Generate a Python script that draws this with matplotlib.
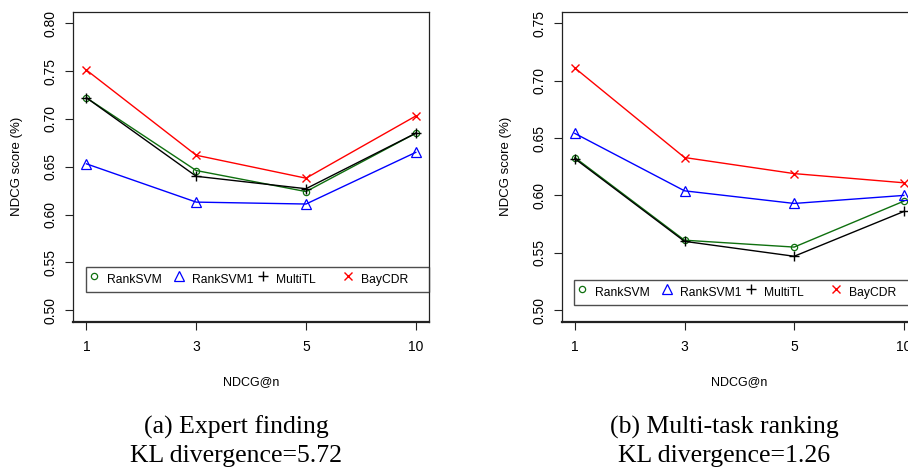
import matplotlib
matplotlib.use("Agg")
import matplotlib.pyplot as plt
from matplotlib.lines import Line2D

plt.rcParams['font.family'] = ['Liberation Sans', 'DejaVu Sans']

# x categories (NDCG@n)
ndcg_at = ['1', '3', '5', '10']
methods = ['RankSVM', 'RankSVM1', 'MultiTL', 'BayCDR']

# (a) Expert finding
ranksvm_a = [0.722, 0.646, 0.624, 0.685]
ranksvm1_a = [0.653, 0.613, 0.611, 0.665]
multitl_a = [0.722, 0.640, 0.627, 0.685]
baycdr_a = [0.751, 0.662, 0.638, 0.703]

# (b) Multi-task ranking
ranksvm_b = [0.633, 0.561, 0.555, 0.595]
ranksvm1_b = [0.654, 0.604, 0.593, 0.600]
multitl_b = [0.632, 0.560, 0.547, 0.586]
baycdr_b = [0.711, 0.633, 0.619, 0.611]

yticks_a = [0.50, 0.55, 0.60, 0.65, 0.70, 0.75, 0.80]
yticks_b = [0.50, 0.55, 0.60, 0.65, 0.70, 0.75]

captions = ["(a) Expert finding\nKL divergence=5.72",
            "(b) Multi-task ranking\nKL divergence=1.26"]

# style per method
styles = {
    'RankSVM':  dict(color='#0f700f', marker='o', ms=4.5, mfc='none', mew=0.9),
    'RankSVM1': dict(color='#0000ff', marker='^', ms=6.5, mfc='none', mew=0.9),
    'MultiTL':  dict(color='black',   marker='+', ms=6.5, mew=1.0),
    'BayCDR':   dict(color='#ff0000', marker='x', ms=5.5, mew=1.0),
}

fig = plt.figure(figsize=(9.08, 4.70), dpi=100)
ax_a = fig.add_axes([0.0807, 0.3155, 0.3917, 0.6596])
ax_b = fig.add_axes([0.6186, 0.3155, 0.3913, 0.6596])


def draw_panel(ax, series, yticks):
    xs = range(len(ndcg_at))
    for name, vals in zip(methods, series):
        ax.plot(xs, vals, lw=1.0, **styles[name])
    ax.set_xlim(-0.12, len(ndcg_at) - 1 + 0.12)
    span = yticks[-1] - yticks[0]
    ax.set_ylim(yticks[0] - 0.04 * span, yticks[-1] + 0.04 * span)
    ax.set_xticks(list(xs))
    ax.set_xticklabels(ndcg_at)
    ax.set_yticks(yticks)
    ax.set_yticklabels([f"{t:.2f}" for t in yticks], rotation=90, va='center')
    ax.tick_params(axis='both', direction='out', length=6, width=0.8,
                   labelsize=10, color='#222222')
    ax.tick_params(axis='x', pad=7)
    ax.tick_params(axis='y', pad=5)
    for sp in ax.spines.values():
        sp.set_linewidth(0.9)
        sp.set_color('#222222')
    ax.spines['bottom'].set_linewidth(1.6)
    ax.set_xlabel('NDCG@n', fontsize=9, labelpad=16)
    ax.set_ylabel('NDCG score (%)', fontsize=9.5, labelpad=15)

    handles = [Line2D([], [], linestyle='none', **styles[m]) for m in methods]
    return handles


h = draw_panel(ax_a, [ranksvm_a, ranksvm1_a, multitl_a, baycdr_a], yticks_a)
draw_panel(ax_b, [ranksvm_b, ranksvm1_b, multitl_b, baycdr_b], yticks_b)

legend_boxes = {ax_a: (0.0366, 0.0968), ax_b: (0.0355, 0.054)}
for ax, (lx, ly) in legend_boxes.items():
    leg = ax.legend(h, methods, loc='lower left', ncol=4,
                    bbox_to_anchor=(lx, ly), borderaxespad=0,
                    fontsize=8.7, frameon=True, fancybox=False, handlelength=0.9,
                    handleheight=2.2, handletextpad=0.62, borderpad=0.2,
                    columnspacing=0)
    # R-style legend: equal-width columns
    leg._legend_handle_box.mode = 'equal'
    leg._legend_handle_box.set_width(338)
    leg.get_frame().set_edgecolor('#222222')
    leg.get_frame().set_linewidth(1.0)

for cx, cap in zip([236 / 908, 724 / 908], captions):
    line1, line2 = cap.split('\n')
    fig.text(cx, 1 - 434 / 470, line1, ha='center', va='baseline',
             family='Liberation Serif', fontsize=18.5)
    fig.text(cx, 1 - 461.7 / 470, line2, ha='center', va='baseline',
             family='Liberation Serif', fontsize=18.5)

fig.savefig('out.png', dpi=100, facecolor='white')
